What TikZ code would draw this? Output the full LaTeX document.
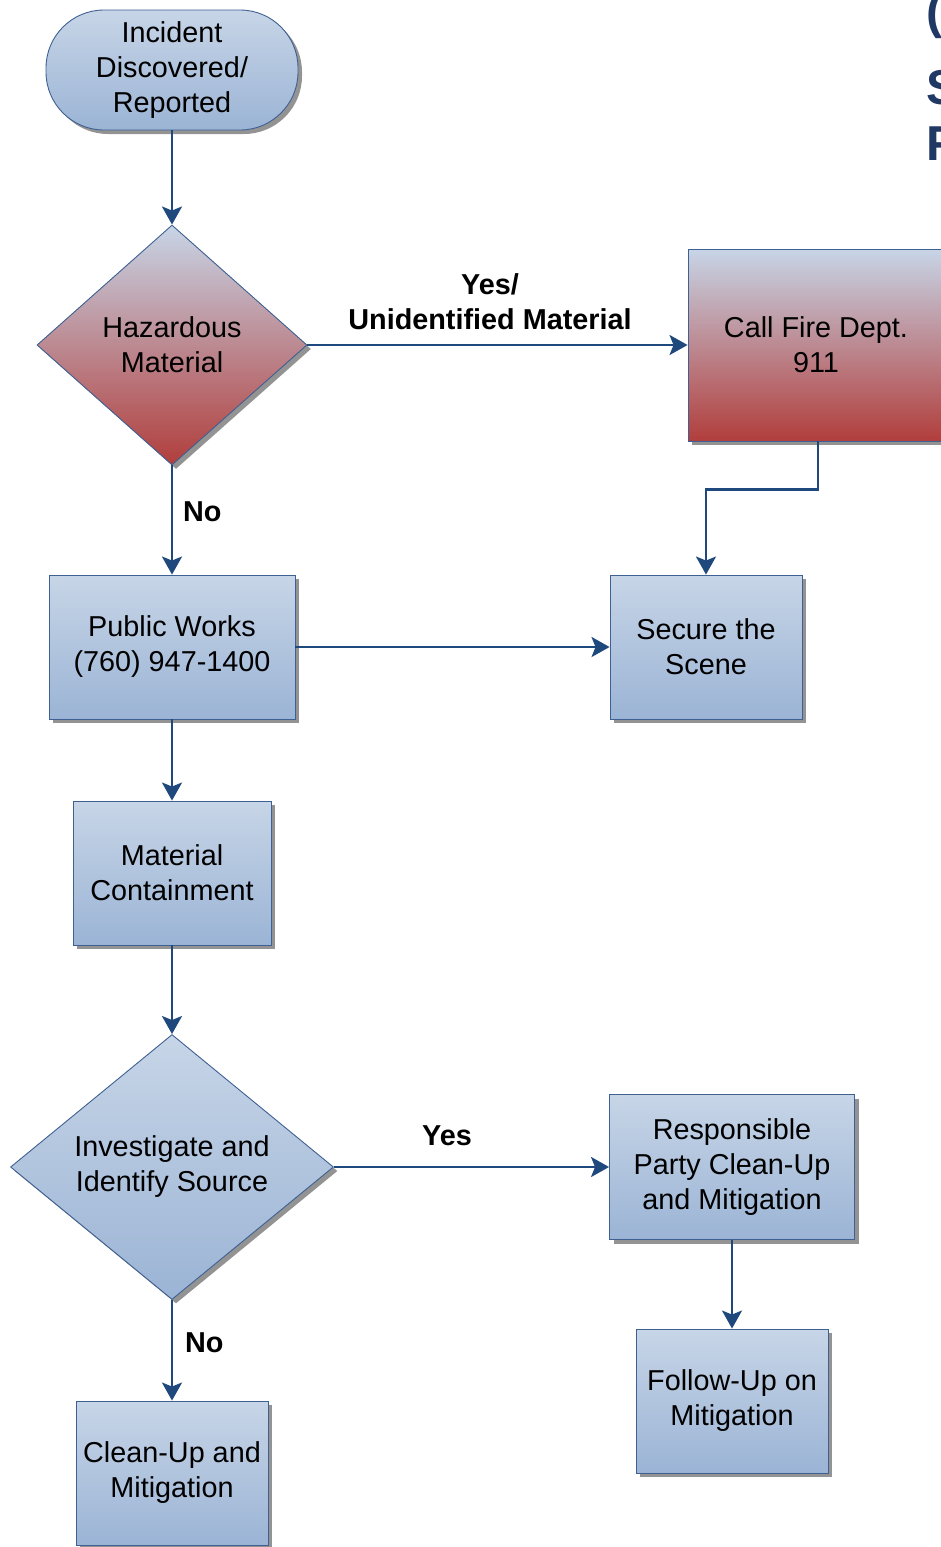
\documentclass[tikz,border=0pt]{standalone}
\usepackage{fontspec}
\setmainfont{Liberation Sans}
\usetikzlibrary{shapes.geometric,shadows,arrows.meta}
\definecolor{boxtop}{RGB}{199,213,231}
\definecolor{boxbot}{RGB}{155,180,213}
\definecolor{redbot}{RGB}{177,62,60}
\definecolor{edgeblue}{RGB}{62,96,146}
\definecolor{flow}{RGB}{31,73,125}
\definecolor{titleblue}{RGB}{31,56,100}

\begin{document}
\begin{tikzpicture}[x=1pt,y=-1pt,
  base/.style={draw=edgeblue, line width=0.9pt, align=center, inner sep=0pt,
    font=\fontsize{28.8}{35}\selectfont,
    drop shadow={shadow xshift=4pt, shadow yshift=-4pt, fill=black!50, opacity=0.85}},
  bluefill/.style={top color=boxtop, bottom color=boxbot},
  redfill/.style={top color=boxtop, bottom color=redbot},
  stepbox/.style={base, rectangle},
  decision/.style={base, diamond},
  terminal/.style={base, rectangle, rounded corners=58pt},
  flowline/.style={draw=flow, line width=2.6pt,
    -{Stealth[length=18pt, width=20pt, inset=4pt]}},
  lbl/.style={font=\bfseries\fontsize{28.8}{35}\selectfont, align=center, inner sep=0pt},
  titlechar/.style={anchor=base west, inner sep=0pt, text=titleblue,
    font=\bfseries\fontsize{49}{56}\selectfont}
]
\useasboundingbox (0,0) rectangle (940,1547);

% heading at the right edge
\node[titlechar] (t1) at (926,28) {(};
\node[titlechar] (t2) at (926,104) {S};
\node[titlechar] (t3) at (926,160) {F};

% nodes
\node[terminal, bluefill, minimum width=252pt, minimum height=120pt] (start) at (172,70)
  {Incident\\Discovered/\\Reported};
\node[decision, redfill, minimum width=270pt, minimum height=240pt] (haz) at (172,345)
  {Hazardous\\Material};
\node[stepbox, redfill, minimum width=256pt, minimum height=192pt] (fire) at (816,345)
  {Call Fire Dept.\\911};
\node[stepbox, bluefill, minimum width=246pt, minimum height=144pt] (pw) at (172,647)
  {Public Works\\(760) 947-1400};
\node[stepbox, bluefill, minimum width=192pt, minimum height=144pt] (secure) at (706,647)
  {Secure the\\Scene};
\node[stepbox, bluefill, minimum width=198pt, minimum height=144pt] (contain) at (172,873)
  {Material\\Containment};
\node[decision, bluefill, minimum width=323pt, minimum height=265pt] (inv) at (172,1167)
  {Investigate and\\Identify Source};
\node[stepbox, bluefill, minimum width=245pt, minimum height=145pt] (resp) at (732,1167)
  {Responsible\\Party Clean-Up\\and Mitigation};
\node[stepbox, bluefill, minimum width=192pt, minimum height=144pt] (follow) at (732,1401)
  {Follow-Up on\\Mitigation};
\node[stepbox, bluefill, minimum width=192pt, minimum height=144pt] (clean) at (172,1473)
  {Clean-Up and\\Mitigation};

% connectors
\draw[flowline] (start) -- (haz);
\draw[flowline] (haz) -- (fire);
\draw[flowline] (haz) -- (pw);
\draw[flowline] (fire.south) ++(2,0) -- ++(0,48) -| (secure.north);
\draw[flowline] (pw) -- (secure);
\draw[flowline] (pw) -- (contain);
\draw[flowline] (contain) -- (inv);
\draw[flowline] (inv) -- (resp);
\draw[flowline] (inv) -- (clean);
\draw[flowline] (resp) -- (follow);

% connector labels
\node[lbl] (lyes1) at (490,302) {Yes/\\Unidentified Material};
\node[lbl, anchor=west] (lno1) at (183,512) {No};
\node[lbl] (lyes2) at (447,1136) {Yes};
\node[lbl, anchor=west] (lno2) at (185,1343) {No};
\end{tikzpicture}
\end{document}
